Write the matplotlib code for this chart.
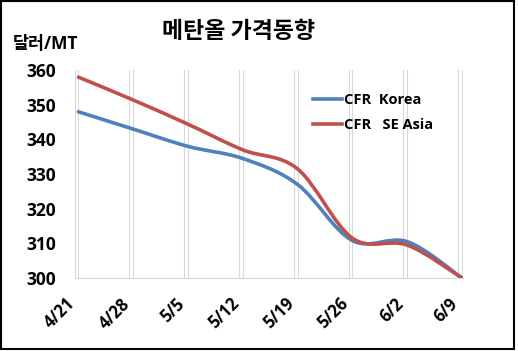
import numpy as np
import matplotlib.pyplot as plt
from matplotlib.path import Path
from matplotlib.patches import PathPatch, Rectangle
from matplotlib.lines import Line2D

plt.rcParams['font.family'] = ['Open Sans', 'Noto Sans CJK KR', 'DejaVu Sans']

# 데이터
dates = ['4/21', '4/28', '5/5', '5/12', '5/19', '5/26', '6/2', '6/9']
korea = [348, 343, 338, 334.5, 327, 310.8, 310.5, 300]
se_asia = [358, 351.4, 344.4, 337, 331.5, 311.5, 309.5, 300]
yticks = [300, 310, 320, 330, 340, 350, 360]
series_names = ['CFR  Korea', 'CFR   SE Asia']
colors = ['#4F81BD', '#C0504D']


def smooth_path(xs, ys):
    # 엑셀 '부드러운 선' 처럼 베지어 곡선으로 연결
    p = np.column_stack([xs, ys]).astype(float)
    n = len(p)
    verts = [p[0]]
    codes = [Path.MOVETO]
    for i in range(n - 1):
        prev = p[max(i - 1, 0)]
        nxt = p[min(i + 2, n - 1)]
        c1 = p[i] + (p[i + 1] - prev) / 6
        c2 = p[i + 1] - (nxt - p[i]) / 6
        verts += [c1, c2, p[i + 1]]
        codes += [Path.CURVE4] * 3
    return Path(verts, codes)


fig = plt.figure(figsize=(5.18, 3.51), dpi=100)
ax = fig.add_axes([0.145, 0.208, 0.749, 0.592])

x = np.arange(len(dates))
for g in x:
    ax.axvline(g - 0.07, color='#d9d9d9', lw=0.8, zorder=0)
    ax.axvline(g, color='#d9d9d9', lw=0.8, zorder=0)

for vals, c in zip([korea, se_asia], colors):
    ax.add_patch(PathPatch(smooth_path(x, vals), fill=False, edgecolor=c,
                           lw=2.6, capstyle='round', zorder=3))

ax.set_xlim(-0.06, 7.02)
ax.set_ylim(300, 360)
ax.set_yticks(yticks)
ax.set_yticklabels([str(v) for v in yticks], fontsize=12.5, fontweight='bold')
ax.set_xticks(x)
ax.set_xticklabels(dates, rotation=45, ha='right', fontsize=12, fontweight='bold')
ax.tick_params(axis='y', length=0, pad=14)
ax.tick_params(axis='x', length=0, pad=12)
for s in ['top', 'right', 'left']:
    ax.spines[s].set_visible(False)
ax.spines['bottom'].set_color('#d9d9d9')

handles = [Line2D([], [], color=c, lw=2.6) for c in colors]
ax.legend(handles, series_names, loc='upper left', bbox_to_anchor=(0.58, 0.955),
          frameon=False, handlelength=2.0, handletextpad=0.1, labelspacing=0.75,
          prop={'weight': 'bold', 'size': 10.5})

fig.text(0.46, 0.91, '메탄올 가격동향', ha='center', va='center',
         fontsize=16.5, fontweight='bold', family='Noto Sans CJK KR')
fig.text(0.025, 0.875, '달러/MT', ha='left', va='center',
         fontsize=12.5, fontweight='bold')

fig.patches.append(Rectangle((0.002, 0.006), 0.99, 0.99, transform=fig.transFigure,
                             fill=False, edgecolor='black', lw=1.5))

fig.savefig('out.png', dpi=100)
